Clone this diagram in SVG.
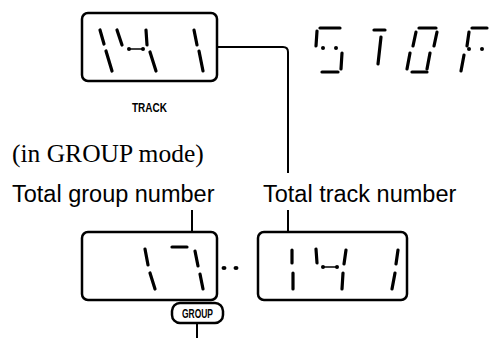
<svg xmlns="http://www.w3.org/2000/svg" width="489" height="338" viewBox="0 0 489 338">
<style>
.box{fill:none;stroke:#000;stroke-width:2.5}
.conn{fill:none;stroke:#000;stroke-width:2}
.seg{stroke:#000;stroke-width:3.2;stroke-linecap:round;fill:none}
.thin{stroke:#000;stroke-width:1.5;fill:none}
.dot{fill:#000}
.lbl{font-family:"Liberation Sans",Arial,sans-serif;font-size:23.5px;fill:#000}
.ser{font-family:"Liberation Serif","Times New Roman",serif;font-size:25.5px;fill:#000}
.tag{font-family:"Liberation Sans Narrow","Liberation Sans",Arial,sans-serif;font-weight:bold;font-size:12px;fill:#000}
</style>
<rect width="489" height="338" fill="#fff"/>
<g id="connectors">
<path class="conn" d="M217,47 H283 Q288,47 288,52 V173"/>
<path class="conn" d="M192,210 V232"/>
<path class="conn" d="M288,210 V232"/>
<path class="conn" d="M197,323 V338"/>
</g>
<g id="track-display">
<rect class="box" x="82" y="13" width="135" height="68" rx="6"/>
<line class="seg" x1="100" y1="30" x2="104" y2="44"/>
<line class="seg" x1="106" y1="51" x2="112" y2="71"/>
<line class="seg" x1="117" y1="30" x2="122" y2="45"/>
<line class="thin" x1="129" y1="49" x2="143" y2="49"/>
<circle class="dot" cx="129" cy="49" r="2"/>
<circle class="dot" cx="143" cy="49" r="2"/>
<line class="seg" x1="146" y1="30" x2="147" y2="45"/>
<line class="seg" x1="150" y1="52" x2="156" y2="71"/>
<line class="seg" x1="194" y1="30" x2="197" y2="45"/>
<line class="seg" x1="199" y1="51" x2="203" y2="71"/>
</g>
<g id="track-label">
<text class="tag" x="132" y="112" textLength="35" lengthAdjust="spacingAndGlyphs">TRACK</text>
</g>
<g id="stop-display">
<line class="seg" x1="320" y1="28" x2="340" y2="28"/>
<line class="seg" x1="317" y1="31" x2="316" y2="46"/>
<circle class="dot" cx="323" cy="48" r="2"/>
<circle class="dot" cx="336" cy="48" r="2"/>
<line class="seg" x1="342" y1="53" x2="341" y2="69"/>
<line class="seg" x1="322" y1="72" x2="338" y2="72"/>
<line class="seg" x1="374" y1="30" x2="385" y2="30"/>
<line class="seg" x1="381" y1="37" x2="378" y2="64"/>
<line class="seg" x1="419" y1="28" x2="436" y2="28"/>
<line class="seg" x1="416" y1="32" x2="413" y2="46"/>
<line class="seg" x1="437" y1="32" x2="434" y2="46"/>
<line class="seg" x1="410" y1="53" x2="407" y2="69"/>
<line class="seg" x1="430" y1="53" x2="427" y2="69"/>
<line class="seg" x1="412" y1="72" x2="427" y2="72"/>
<line class="seg" x1="472" y1="28" x2="487" y2="28"/>
<line class="seg" x1="469" y1="32" x2="467" y2="46"/>
<circle class="dot" cx="469" cy="49" r="2"/>
<circle class="dot" cx="482" cy="49" r="2"/>
<line class="seg" x1="464" y1="55" x2="461" y2="71"/>
</g>
<g id="mode-note">
<text class="ser" x="12" y="162">(in GROUP mode)</text>
</g>
<g id="group-label">
<text class="lbl" x="12" y="202">Total group number</text>
</g>
<g id="tracknum-label">
<text class="lbl" x="263" y="202">Total track number</text>
</g>
<g id="group-display">
<rect class="box" x="82" y="232" width="135" height="68" rx="6"/>
<line class="seg" x1="145" y1="249" x2="148" y2="265"/>
<line class="seg" x1="150" y1="273" x2="155" y2="289"/>
<line class="seg" x1="172" y1="247" x2="187" y2="247"/>
<line class="seg" x1="195" y1="251" x2="198" y2="266"/>
<line class="seg" x1="200" y1="274" x2="203" y2="289"/>
</g>
<g id="separator">
<ellipse class="dot" cx="224" cy="268" rx="2.5" ry="2"/>
<ellipse class="dot" cx="236" cy="268" rx="2.5" ry="2"/>
</g>
<g id="total-track-display">
<rect class="box" x="258" y="232" width="149" height="68" rx="6"/>
<line class="seg" x1="292" y1="250" x2="292" y2="263"/>
<line class="seg" x1="293" y1="273" x2="293" y2="289"/>
<line class="seg" x1="316" y1="249" x2="317" y2="263"/>
<line class="thin" x1="323" y1="267" x2="337" y2="267"/>
<circle class="dot" cx="323" cy="267" r="2"/>
<circle class="dot" cx="337" cy="267" r="2"/>
<line class="seg" x1="346" y1="250" x2="344" y2="264"/>
<line class="seg" x1="343" y1="273" x2="342" y2="289"/>
<line class="seg" x1="398" y1="250" x2="396" y2="264"/>
<line class="seg" x1="395" y1="273" x2="392" y2="289"/>
</g>
<g id="group-tag">
<rect class="box" x="172" y="303" width="51" height="20" rx="8"/>
<text class="tag" x="182" y="318" textLength="31" lengthAdjust="spacingAndGlyphs">GROUP</text>
</g>
</svg>
